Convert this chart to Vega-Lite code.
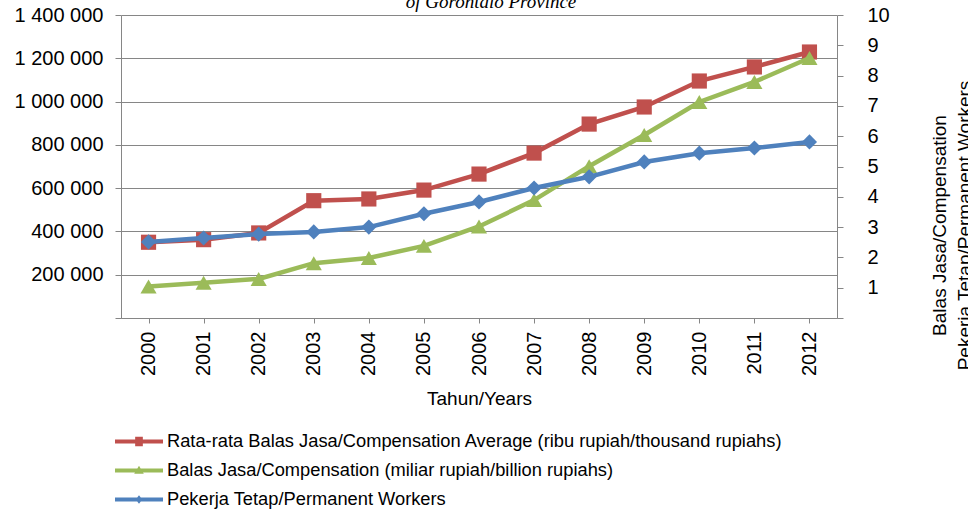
{
  "$schema": "https://vega.github.io/schema/vega-lite/v6.json",
  "width": 716,
  "height": 303,
  "autosize": "none",
  "padding": {"left": 121, "top": 15, "right": 131, "bottom": 194},
  "background": "white",
  "config": {
    "font": "Liberation Sans",
    "view": {"stroke": null},
    "axis": {"domainColor": "#868686", "tickColor": "#868686", "labelColor": "black", "titleColor": "black", "labelFontSize": 20, "titleFontSize": 19, "titleFontWeight": "normal", "labelFont": "Liberation Sans", "titleFont": "Liberation Sans"}
  },
  "title": {"text": "of Gorontalo Province", "font": "Liberation Serif", "fontStyle": "italic", "fontWeight": "normal", "fontSize": 19, "color": "black", "anchor": "middle", "frame": "group", "offset": -22, "baseline": "alphabetic", "dx": 12},
  "datasets": {
    "all": [
      {"year": "2000", "series": "Rata-rata Balas Jasa/Compensation Average (ribu rupiah/thousand rupiahs)", "axis": "left", "value": 350000},
      {"year": "2001", "series": "Rata-rata Balas Jasa/Compensation Average (ribu rupiah/thousand rupiahs)", "axis": "left", "value": 362000},
      {"year": "2002", "series": "Rata-rata Balas Jasa/Compensation Average (ribu rupiah/thousand rupiahs)", "axis": "left", "value": 393000},
      {"year": "2003", "series": "Rata-rata Balas Jasa/Compensation Average (ribu rupiah/thousand rupiahs)", "axis": "left", "value": 542000},
      {"year": "2004", "series": "Rata-rata Balas Jasa/Compensation Average (ribu rupiah/thousand rupiahs)", "axis": "left", "value": 550000},
      {"year": "2005", "series": "Rata-rata Balas Jasa/Compensation Average (ribu rupiah/thousand rupiahs)", "axis": "left", "value": 591000},
      {"year": "2006", "series": "Rata-rata Balas Jasa/Compensation Average (ribu rupiah/thousand rupiahs)", "axis": "left", "value": 665000},
      {"year": "2007", "series": "Rata-rata Balas Jasa/Compensation Average (ribu rupiah/thousand rupiahs)", "axis": "left", "value": 762000},
      {"year": "2008", "series": "Rata-rata Balas Jasa/Compensation Average (ribu rupiah/thousand rupiahs)", "axis": "left", "value": 896000},
      {"year": "2009", "series": "Rata-rata Balas Jasa/Compensation Average (ribu rupiah/thousand rupiahs)", "axis": "left", "value": 975000},
      {"year": "2010", "series": "Rata-rata Balas Jasa/Compensation Average (ribu rupiah/thousand rupiahs)", "axis": "left", "value": 1095000},
      {"year": "2011", "series": "Rata-rata Balas Jasa/Compensation Average (ribu rupiah/thousand rupiahs)", "axis": "left", "value": 1160000},
      {"year": "2012", "series": "Rata-rata Balas Jasa/Compensation Average (ribu rupiah/thousand rupiahs)", "axis": "left", "value": 1229000},
      {"year": "2000", "series": "Balas Jasa/Compensation (miliar rupiah/billion rupiahs)", "axis": "right", "value": 1.04},
      {"year": "2001", "series": "Balas Jasa/Compensation (miliar rupiah/billion rupiahs)", "axis": "right", "value": 1.16},
      {"year": "2002", "series": "Balas Jasa/Compensation (miliar rupiah/billion rupiahs)", "axis": "right", "value": 1.29},
      {"year": "2003", "series": "Balas Jasa/Compensation (miliar rupiah/billion rupiahs)", "axis": "right", "value": 1.81},
      {"year": "2004", "series": "Balas Jasa/Compensation (miliar rupiah/billion rupiahs)", "axis": "right", "value": 1.98},
      {"year": "2005", "series": "Balas Jasa/Compensation (miliar rupiah/billion rupiahs)", "axis": "right", "value": 2.38},
      {"year": "2006", "series": "Balas Jasa/Compensation (miliar rupiah/billion rupiahs)", "axis": "right", "value": 3.02},
      {"year": "2007", "series": "Balas Jasa/Compensation (miliar rupiah/billion rupiahs)", "axis": "right", "value": 3.89},
      {"year": "2008", "series": "Balas Jasa/Compensation (miliar rupiah/billion rupiahs)", "axis": "right", "value": 5.01},
      {"year": "2009", "series": "Balas Jasa/Compensation (miliar rupiah/billion rupiahs)", "axis": "right", "value": 6.04},
      {"year": "2010", "series": "Balas Jasa/Compensation (miliar rupiah/billion rupiahs)", "axis": "right", "value": 7.13},
      {"year": "2011", "series": "Balas Jasa/Compensation (miliar rupiah/billion rupiahs)", "axis": "right", "value": 7.79},
      {"year": "2012", "series": "Balas Jasa/Compensation (miliar rupiah/billion rupiahs)", "axis": "right", "value": 8.58},
      {"year": "2000", "series": "Pekerja Tetap/Permanent Workers", "axis": "right", "value": 2.51},
      {"year": "2001", "series": "Pekerja Tetap/Permanent Workers", "axis": "right", "value": 2.64},
      {"year": "2002", "series": "Pekerja Tetap/Permanent Workers", "axis": "right", "value": 2.77},
      {"year": "2003", "series": "Pekerja Tetap/Permanent Workers", "axis": "right", "value": 2.84},
      {"year": "2004", "series": "Pekerja Tetap/Permanent Workers", "axis": "right", "value": 3.0},
      {"year": "2005", "series": "Pekerja Tetap/Permanent Workers", "axis": "right", "value": 3.44},
      {"year": "2006", "series": "Pekerja Tetap/Permanent Workers", "axis": "right", "value": 3.83},
      {"year": "2007", "series": "Pekerja Tetap/Permanent Workers", "axis": "right", "value": 4.29},
      {"year": "2008", "series": "Pekerja Tetap/Permanent Workers", "axis": "right", "value": 4.66},
      {"year": "2009", "series": "Pekerja Tetap/Permanent Workers", "axis": "right", "value": 5.15},
      {"year": "2010", "series": "Pekerja Tetap/Permanent Workers", "axis": "right", "value": 5.44},
      {"year": "2011", "series": "Pekerja Tetap/Permanent Workers", "axis": "right", "value": 5.61},
      {"year": "2012", "series": "Pekerja Tetap/Permanent Workers", "axis": "right", "value": 5.81}
    ]
  },
  "layer": [
    {
      "data": {"name": "all"},
      "transform": [{"filter": "datum.axis == 'left'"}],
      "encoding": {
        "x": {"field": "year", "type": "ordinal", "scale": {"paddingInner": 0, "paddingOuter": 0},
          "axis": {"title": "Tahun/Years", "labelAngle": 270, "bandPosition": 0, "tickSize": 5, "labelPadding": 8, "titlePadding": 14, "grid": false}},
        "y": {"field": "value", "type": "quantitative", "scale": {"domain": [0, 1400000], "nice": false},
          "axis": {"title": null, "values": [0, 200000, 400000, 600000, 800000, 1000000, 1200000, 1400000], "labelExpr": "datum.value == 0 ? '' : replace(format(datum.value, ','), regexp(',', 'g'), ' ')", "tickSize": 6, "labelPadding": 12, "grid": true, "gridColor": "#868686", "gridOpacity": 1, "gridWidth": 1}}
      },
      "layer": [
        {"mark": {"type": "line", "strokeWidth": 4.5, "color": "#C0504D"}},
        {"mark": {"type": "point", "shape": "square", "filled": true, "size": 230, "opacity": 1, "color": "#C0504D"}}
      ]
    },
    {
      "data": {"name": "all"},
      "transform": [{"filter": "datum.axis == 'right'"}],
      "encoding": {
        "x": {"field": "year", "type": "ordinal"},
        "y": {"field": "value", "type": "quantitative", "scale": {"domain": [0, 10], "nice": false},
          "axis": {"orient": "right", "values": [0, 1, 2, 3, 4, 5, 6, 7, 8, 9, 10], "labelExpr": "datum.value == 0 ? '' : datum.label", "tickSize": 6, "labelPadding": 24, "grid": false,
            "title": ["Balas Jasa/Compensation", "Pekerja Tetap/Permanent Workers"], "titleAngle": 270, "titlePadding": 35, "titleLineHeight": 25, "titleY": 210}}
      },
      "layer": [
        {"transform": [{"filter": "datum.series == 'Balas Jasa/Compensation (miliar rupiah/billion rupiahs)'"}],
         "mark": {"type": "line", "strokeWidth": 4.5, "color": "#9BBB59"}},
        {"transform": [{"filter": "datum.series == 'Balas Jasa/Compensation (miliar rupiah/billion rupiahs)'"}],
         "mark": {"type": "point", "shape": "triangle-up", "filled": true, "size": 260, "opacity": 1, "color": "#9BBB59"}},
        {"transform": [{"filter": "datum.series == 'Pekerja Tetap/Permanent Workers'"}],
         "mark": {"type": "line", "strokeWidth": 4.5, "color": "#4F81BD"}},
        {"transform": [{"filter": "datum.series == 'Pekerja Tetap/Permanent Workers'"}],
         "mark": {"type": "point", "shape": "diamond", "filled": true, "size": 230, "opacity": 1, "color": "#4F81BD"}}
      ]
    },
    {
      "data": {"name": "all"},
      "mark": {"type": "point", "filled": true, "opacity": 0, "size": 2304},
      "encoding": {
        "x": {"field": "year", "type": "ordinal"},
        "y": {"field": "value", "type": "quantitative", "axis": null, "scale": {"domain": [-20000000, 20000000], "nice": false}},
        "color": {"field": "series", "type": "nominal",
          "scale": {"domain": ["Rata-rata Balas Jasa/Compensation Average (ribu rupiah/thousand rupiahs)", "Balas Jasa/Compensation (miliar rupiah/billion rupiahs)", "Pekerja Tetap/Permanent Workers"], "range": ["#C0504D", "#9BBB59", "#4F81BD"]},
          "legend": {"title": null, "orient": "none", "legendX": -6, "legendY": 412, "symbolOpacity": 1, "symbolSize": 2304, "symbolStrokeWidth": 0, "labelFontSize": 18.3, "labelColor": "black", "labelLimit": 0, "labelOffset": 4, "rowPadding": 0, "clipHeight": 29}},
        "shape": {"field": "series", "type": "nominal",
          "scale": {"domain": ["Rata-rata Balas Jasa/Compensation Average (ribu rupiah/thousand rupiahs)", "Balas Jasa/Compensation (miliar rupiah/billion rupiahs)", "Pekerja Tetap/Permanent Workers"],
            "range": ["M-1,-0.085L1,-0.085L1,0.085L-1,0.085Z M-0.16,-0.2L0.16,-0.2L0.16,0.2L-0.16,0.2Z", "M-1,-0.085L1,-0.085L1,0.085L-1,0.085Z M0,-0.2L0.2,0.14L-0.2,0.14Z", "M-1,-0.085L1,-0.085L1,0.085L-1,0.085Z M0,-0.18L0.14,0L0,0.18L-0.14,0Z"]},
          "legend": {"title": null, "orient": "none", "legendX": -6, "legendY": 412, "symbolOpacity": 1, "symbolSize": 2304, "symbolStrokeWidth": 0, "labelFontSize": 18.3, "labelColor": "black", "labelLimit": 0, "labelOffset": 4, "rowPadding": 0, "clipHeight": 29}}
      }
    }
  ],
  "resolve": {"scale": {"y": "independent"}}
}
